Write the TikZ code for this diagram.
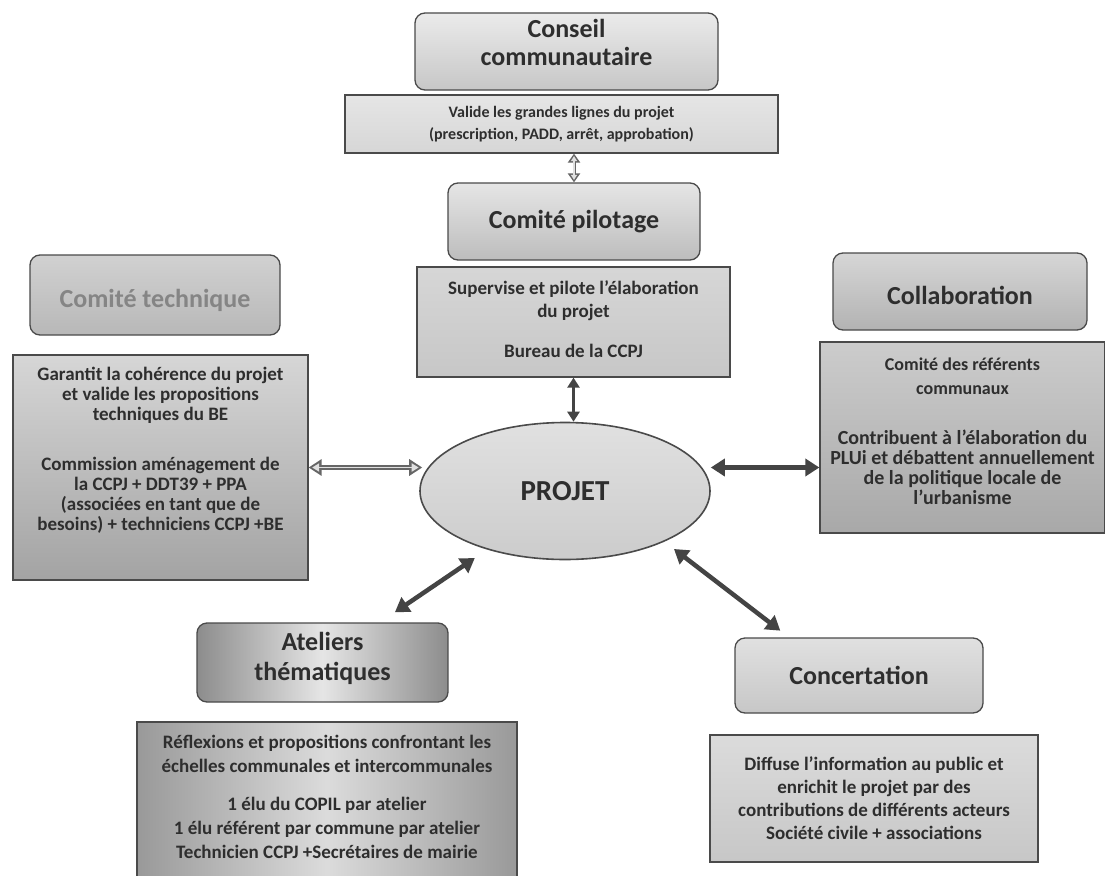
\documentclass[tikz,border=0pt]{standalone}
\usepackage{fontspec}
\setmainfont{Carlito}
\usetikzlibrary{arrows.meta,shapes.geometric,calc}
\definecolor{ink}{HTML}{2E2E2E}
\definecolor{edge}{HTML}{4A4A4A}
\definecolor{arrc}{HTML}{444444}
\definecolor{hollowc}{HTML}{666666}
\begin{document}
\begin{tikzpicture}[x=1pt,y=-1pt,
  hdr/.style={draw=edge, line width=1.3pt, rounded corners=10pt,
    font=\fontsize{26}{29}\selectfont\bfseries, text=ink, align=center, inner sep=0pt},
  htxt/.style={font=\fontsize{26}{28}\selectfont\bfseries, text=ink, align=center, inner sep=0pt},
  body/.style={draw=edge, line width=1.3pt,
    font=\fontsize{19}{23}\selectfont\bfseries, text=ink, align=center, inner sep=0pt},
  btxt/.style={font=\fontsize{19}{20}\selectfont\bfseries, text=ink, align=center, inner sep=0pt},
  darr/.style={draw=arrc, line width=4.5pt,
    {Triangle[length=14pt,width=17pt]}-{Triangle[length=14pt,width=17pt]}},
  marr/.style={draw=arrc, line width=3pt,
    {Triangle[length=10pt,width=12pt]}-{Triangle[length=10pt,width=12pt]}},
  hout/.style={draw=hollowc, line width=4.5pt,
    {Triangle[length=13pt,width=16pt]}-{Triangle[length=13pt,width=16pt]}},
  hin/.style={draw=white!88!black, line width=1.8pt, shorten <=3.5pt, shorten >=3.5pt,
    {Triangle[length=7pt,width=8pt]}-{Triangle[length=7pt,width=8pt]}},
  sout/.style={draw=hollowc, line width=3pt,
    {Triangle[length=9pt,width=12pt]}-{Triangle[length=9pt,width=12pt]}},
  sin/.style={draw=white!88!black, line width=1.2pt, shorten <=2.5pt, shorten >=2.5pt,
    {Triangle[length=5pt,width=6pt]}-{Triangle[length=5pt,width=6pt]}},
]
\useasboundingbox (0,0) rectangle (1105,875);
\fill[white] (0,0) rectangle (1105,875);

% ---- top: conseil communautaire
\node[hdr, top color=white!92!black, bottom color=white!78!black,
  minimum width=303pt, minimum height=77pt] (conseil) at (566.5,51.5) {};
\node[htxt] (conseil-t) at ([yshift=9pt]conseil.center) {Conseil\\communautaire};
\node[body, font=\fontsize{16}{22}\selectfont\bfseries, top color=white!90!black, bottom color=white!84!black,
  minimum width=433pt, minimum height=58pt] (valide) at (561.5,124)
  {Valide les grandes lignes du projet\\(prescription, PADD, arrêt, approbation)};

% ---- comité pilotage
\node[hdr, top color=white!90!black, bottom color=white!74!black,
  minimum width=252pt, minimum height=77pt] (pilotage) at (574,221.5) {Comité pilotage};
\node[body, top color=white!84!black, bottom color=white!78!black,
  minimum width=313pt, minimum height=110pt] (supervise) at (573.5,322) {};
\node[btxt, font=\fontsize{19}{23}\selectfont\bfseries] (supervise-t) at ([yshift=3pt]supervise.center)
  {Supervise et pilote l’élaboration\\du projet\\[17pt]Bureau de la CCPJ};

% ---- projet
\node[ellipse, draw=edge, line width=1.6pt, top color=white!88!black, bottom color=white!80!black,
  minimum width=290pt, minimum height=137pt, inner sep=0pt,
  font=\fontsize{29}{32}\selectfont\bfseries, text=ink] (projet) at (565,491) {PROJET};

% ---- comité technique
\node[hdr, top color=white!82!black, bottom color=white!72!black,
  minimum width=250pt, minimum height=80pt] (technique) at (155,295) {};
\node[htxt, text=white!52!black] (technique-t) at ([yshift=-5pt]technique.center) {Comité technique};
\node[body, top color=white!84!black, bottom color=white!64!black,
  minimum width=295pt, minimum height=225pt] (garantit) at (160.5,467.5) {};
\node[btxt, anchor=north] (garantit-t) at ([yshift=-13pt]garantit.north)
  {Garantit la cohérence du projet\\et valide les propositions\\techniques du BE\\[30pt]%
   Commission aménagement de\\la CCPJ + DDT39 + PPA\\(associées en tant que de\\besoins) + techniciens CCPJ +BE};

% ---- collaboration
\node[hdr, top color=white!84!black, bottom color=white!70!black,
  minimum width=254pt, minimum height=77pt] (collab) at (960,291.5) {};
\node[htxt] (collab-t) at ([yshift=-4pt]collab.center) {Collaboration};
\node[body, top color=white!80!black, bottom color=white!66!black,
  minimum width=285pt, minimum height=191pt] (referents) at (962.5,437.5) {};
\node[btxt, font=\fontsize{18}{24}\selectfont\bfseries, anchor=north] (referents-a) at ([yshift=-16pt]referents.north)
  {Comité des référents\\communaux};
\node[btxt, font=\fontsize{20}{20}\selectfont\bfseries, anchor=north] (referents-b) at ([yshift=-88pt]referents.north)
  {Contribuent à l’élaboration du\\PLUi et débattent annuellement\\de la politique locale de\\l’urbanisme};

% ---- ateliers thématiques
\node[hdr, left color=white!55!black, right color=white!55!black, middle color=white!90!black,
  minimum width=251pt, minimum height=79pt] (ateliers) at (322.5,662.5) {};
\node[htxt, font=\fontsize{26}{30}\selectfont\bfseries] (ateliers-t) at ([yshift=4pt]ateliers.center) {Ateliers\\thématiques};
\node[body, left color=white!60!black, right color=white!60!black, middle color=white!86!black,
  minimum width=380pt, minimum height=163pt] (reflexions) at (327,803.5) {};
\node[btxt, font=\fontsize{19}{24}\selectfont\bfseries, anchor=north] (reflexions-t) at ([yshift=-14pt]reflexions.north)
  {Réflexions et propositions confrontant les\\échelles communales et intercommunales\\[14pt]%
   1 élu du COPIL par atelier\\1 élu référent par commune par atelier\\Technicien CCPJ +Secrétaires de mairie};

% ---- concertation
\node[hdr, top color=white!88!black, bottom color=white!78!black,
  minimum width=248pt, minimum height=75pt] (concert) at (859,675.5) {Concertation};
\node[body, top color=white!86!black, bottom color=white!78!black,
  minimum width=328pt, minimum height=127pt] (diffuse) at (874,798.5)
  {Diffuse l’information au public et\\enrichit le projet par des\\contributions de différents acteurs\\Société civile + associations};

% ---- connectors
\draw[sout] (pilotage.north) -- (pilotage.north |- valide.south);
\draw[sin] (pilotage.north) -- (pilotage.north |- valide.south);

\draw[marr] (supervise.south) -- (supervise.south |- projet.north);

\draw[hout] (garantit.east) -- ([xshift=3pt]garantit.east -| projet.west);
\draw[hin] (garantit.east) -- ([xshift=3pt]garantit.east -| projet.west);

\draw[darr] (projet.east |- garantit.east) -- (referents.west |- garantit.east);

\draw[darr, shorten <=15pt, shorten >=18pt] (projet.-143) -- ([xshift=57.5pt]ateliers.north);
\draw[darr, shorten <=12pt, shorten >=11pt] (projet.-27) -- ([xshift=-70pt]concert.north);
\end{tikzpicture}
\end{document}
